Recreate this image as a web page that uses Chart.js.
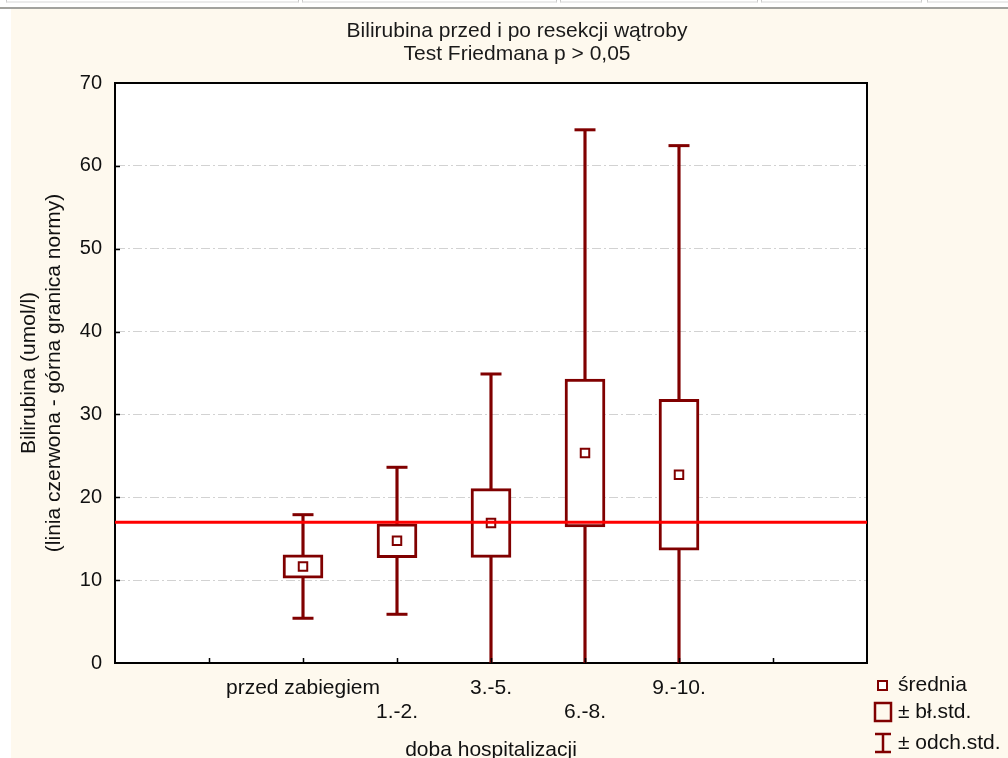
<!DOCTYPE html>
<html lang="pl">
<head>
<meta charset="utf-8">
<title>Bilirubina przed i po resekcji wątroby</title>
<script src="https://cdn.jsdelivr.net/npm/chart.js@4.4.1/dist/chart.umd.min.js"></script>
<style>
  html, body { margin: 0; padding: 0; width: 1008px; height: 758px; overflow: hidden; background: #ffffff; }
  .cell { position: absolute; top: 0; height: 3px; box-sizing: border-box;
          border-left: 1px solid #c9c9c9; border-right: 1px solid #c9c9c9; border-bottom: 2px solid #ebebeb; }
  #rule { position: absolute; left: 0; top: 7px; width: 1008px; height: 2px; background: #a2a29e; }
  #paper { position: absolute; left: 11px; top: 9px; right: 0; bottom: 0; background: #fef9ee; }
  #chart { position: absolute; left: 0; top: 0; }
</style>
</head>
<body>
<div class="cell" style="left:6px;width:293px"></div>
<div class="cell" style="left:302px;width:255px"></div>
<div class="cell" style="left:560px;width:198px"></div>
<div class="cell" style="left:761px;width:161px"></div>
<div class="cell" style="left:927px;width:90px"></div>
<div id="rule"></div>
<div id="paper"></div>
<canvas id="chart" width="1017" height="762"></canvas>
<script>
// Bilirubin by day of hospitalisation: mean, standard error and standard deviation
const categories = ['przed zabiegiem', '1.-2.', '3.-5.', '6.-8.', '9.-10.'];
const means      = [11.65, 14.75, 16.9, 25.35, 22.72];
const stdErrors  = [1.4, 2.05, 4.15, 8.93, 9.1];
const stdDevs    = [6.25, 8.87, 17.98, 39.0, 39.72];
const normUpper  = 17;          // upper limit of the normal range (red line)
const yTickStep  = 10;
const yRange     = [0, 70];
const xRange     = [0, 8];      // category slots on the x axis
const firstSlot  = 2;           // slot of the first category
const legendLabels = ['średnia', '± bł.std.', '± odch.std.'];
const titleLines = ['Bilirubina przed i po resekcji wątroby', 'Test Friedmana p > 0,05'];
const yTitleLines = ['Bilirubina (umol/l)', '(linia czerwona - górna granica normy)'];
const xTitle = 'doba hospitalizacji';

const FONT = '"Liberation Sans", Arial, sans-serif';
const DARK_RED = '#800000';
const TEXT = '#111111';

const slot = i => firstSlot + i;
const meanPoints = means.map((m, i) => ({ x: slot(i), y: m }));
const sePoints = means.map((m, i) => ({ x: slot(i), y: [m - stdErrors[i], m + stdErrors[i]] }));
const sdPoints = means.map((m, i) => ({ x: slot(i), y: [m - stdDevs[i], m + stdDevs[i]] }));
const capPoints = means.flatMap((m, i) => [
  { x: slot(i), y: m - stdDevs[i] },
  { x: slot(i), y: m + stdDevs[i] }
]);

// white plot background inside the frame
const plotBackground = {
  id: 'plotBackground',
  beforeDraw(chart) {
    const { ctx, chartArea: a } = chart;
    ctx.save();
    ctx.fillStyle = '#ffffff';
    ctx.fillRect(a.left, a.top, a.right - a.left, a.bottom - a.top);
    ctx.restore();
  }
};

// short tick marks pointing into the plot on the left and bottom axes
const innerTicks = {
  id: 'innerTicks',
  afterDraw(chart) {
    const { ctx, chartArea: a, scales } = chart;
    ctx.save();
    ctx.strokeStyle = '#000000';
    ctx.lineWidth = 1.5;
    ctx.beginPath();
    scales.y.ticks.forEach(t => {
      if (t.value <= yRange[0] || t.value >= yRange[1]) return;
      const py = Math.round(scales.y.getPixelForValue(t.value)) + 0.5;
      ctx.moveTo(a.left, py); ctx.lineTo(a.left + 5, py);
    });
    scales.x.ticks.forEach(t => {
      if (t.value <= xRange[0] || t.value >= xRange[1]) return;
      const px = Math.round(scales.x.getPixelForValue(t.value)) + 0.5;
      ctx.moveTo(px, a.bottom); ctx.lineTo(px, a.bottom - 5);
    });
    ctx.stroke();
    ctx.restore();
  }
};

// legend below the right side of the plot
const statLegend = {
  id: 'statLegend',
  afterDraw(chart) {
    const { ctx, chartArea: a } = chart;
    const iconLeft = a.right + 7;
    const textLeft = a.right + 31;
    const rows = [a.bottom + 22, a.bottom + 49, a.bottom + 80];
    ctx.save();
    ctx.font = '21px ' + FONT;
    ctx.fillStyle = TEXT;
    ctx.textBaseline = 'middle';
    ctx.textAlign = 'left';
    legendLabels.forEach((t, i) => ctx.fillText(t, textLeft, rows[i]));

    ctx.strokeStyle = DARK_RED;
    ctx.fillStyle = '#ffffff';
    // mean marker
    ctx.fillRect(iconLeft + 4, rows[0] - 4, 9, 9);
    ctx.lineWidth = 2;
    ctx.strokeRect(iconLeft + 4, rows[0] - 4, 9, 9);
    // standard error box
    ctx.lineWidth = 2.5;
    ctx.strokeRect(iconLeft + 1, rows[1] - 9, 16, 18);
    // standard deviation whisker
    ctx.beginPath();
    ctx.moveTo(iconLeft + 9, rows[2] - 9); ctx.lineTo(iconLeft + 9, rows[2] + 9);
    ctx.moveTo(iconLeft + 1, rows[2] - 9); ctx.lineTo(iconLeft + 17, rows[2] - 9);
    ctx.moveTo(iconLeft + 1, rows[2] + 9); ctx.lineTo(iconLeft + 17, rows[2] + 9);
    ctx.stroke();
    ctx.restore();
  }
};

new Chart(document.getElementById('chart'), {
  type: 'scatter',
  data: {
    datasets: [
      {
        type: 'line',
        label: 'norma',
        data: [{ x: xRange[0], y: normUpper }, { x: xRange[1], y: normUpper }],
        borderColor: '#ff0000',
        borderWidth: 3,
        pointRadius: 0,
        order: 1,
        clip: 0
      },
      {
        type: 'scatter',
        label: legendLabels[0],
        data: meanPoints,
        pointStyle: 'rect',
        pointRadius: 6,
        borderWidth: 2,
        borderColor: DARK_RED,
        backgroundColor: '#ffffff',
        order: 2,
        clip: 0
      },
      {
        type: 'bar',
        label: legendLabels[1],
        data: sePoints,
        backgroundColor: '#ffffff',
        borderColor: DARK_RED,
        borderWidth: 3,
        borderSkipped: false,
        barThickness: 40,
        maxBarThickness: 40,
        grouped: false,
        order: 3,
        clip: 0
      },
      {
        type: 'scatter',
        label: 'wąsy',
        data: capPoints,
        pointStyle: 'line',
        pointRadius: 10.5,
        borderWidth: 3,
        borderColor: DARK_RED,
        order: 4,
        clip: 0
      },
      {
        type: 'bar',
        label: legendLabels[2],
        data: sdPoints,
        backgroundColor: DARK_RED,
        borderWidth: 0,
        barThickness: 2.5,
        maxBarThickness: 2.5,
        grouped: false,
        order: 5,
        clip: 0
      }
    ]
  },
  options: {
    responsive: false,
    animation: false,
    events: [],
    devicePixelRatio: 1,
    layout: { padding: { left: 17, right: 0, top: 0, bottom: 0 } },
    plugins: {
      legend: { display: false },
      tooltip: { enabled: false },
      title: {
        display: true,
        text: titleLines,
        color: '#1a1a1a',
        font: { family: FONT, size: 21, weight: 'normal', lineHeight: 1.095 },
        padding: { top: 20, bottom: 0 }
      }
    },
    scales: {
      x: {
        type: 'linear',
        position: 'bottom',
        offset: false,
        min: xRange[0],
        max: xRange[1],
        grid: { display: false, drawTicks: false, offset: false },
        border: { display: true, color: '#000000', width: 2 },
        ticks: {
          stepSize: 1,
          autoSkip: false,
          maxRotation: 0,
          minRotation: 0,
          padding: 13,
          color: TEXT,
          font: { family: FONT, size: 21, lineHeight: 1.143 },
          callback: value => {
            const i = value - firstSlot;
            if (!Number.isInteger(i) || i < 0 || i >= categories.length) return '';
            return i % 2 ? ['', categories[i]] : categories[i];
          }
        },
        title: {
          display: true,
          text: xTitle,
          color: TEXT,
          font: { family: FONT, size: 21, lineHeight: 1.143 },
          padding: { top: 0, bottom: 0 }
        },
        afterFit: s => { s.height = 99; }
      },
      x2: {
        type: 'linear',
        position: 'top',
        offset: false,
        min: xRange[0],
        max: xRange[1],
        grid: { display: false, drawTicks: false, offset: false },
        border: { display: true, color: '#000000', width: 2 },
        ticks: { display: false },
        afterFit: s => { s.height = 17; }
      },
      y: {
        type: 'linear',
        position: 'left',
        min: yRange[0],
        max: yRange[1],
        grid: { display: true, color: '#d2d2d2', lineWidth: 1, drawTicks: false },
        border: { display: true, color: '#000000', width: 2, dash: [9, 3, 2, 3] },
        ticks: {
          stepSize: yTickStep,
          padding: 13,
          color: TEXT,
          font: { family: FONT, size: 20 }
        },
        title: {
          display: true,
          text: yTitleLines,
          color: TEXT,
          font: { family: FONT, size: 21, lineHeight: 1.19 },
          padding: { top: 0, bottom: 0 }
        },
        afterFit: s => { s.width = 98; }
      },
      y2: {
        type: 'linear',
        position: 'right',
        min: yRange[0],
        max: yRange[1],
        grid: { display: false, drawTicks: false },
        border: { display: true, color: '#000000', width: 2 },
        ticks: { display: false },
        afterFit: s => { s.width = 150; }
      }
    }
  },
  plugins: [plotBackground, innerTicks, statLegend]
});
</script>
</body>
</html>
